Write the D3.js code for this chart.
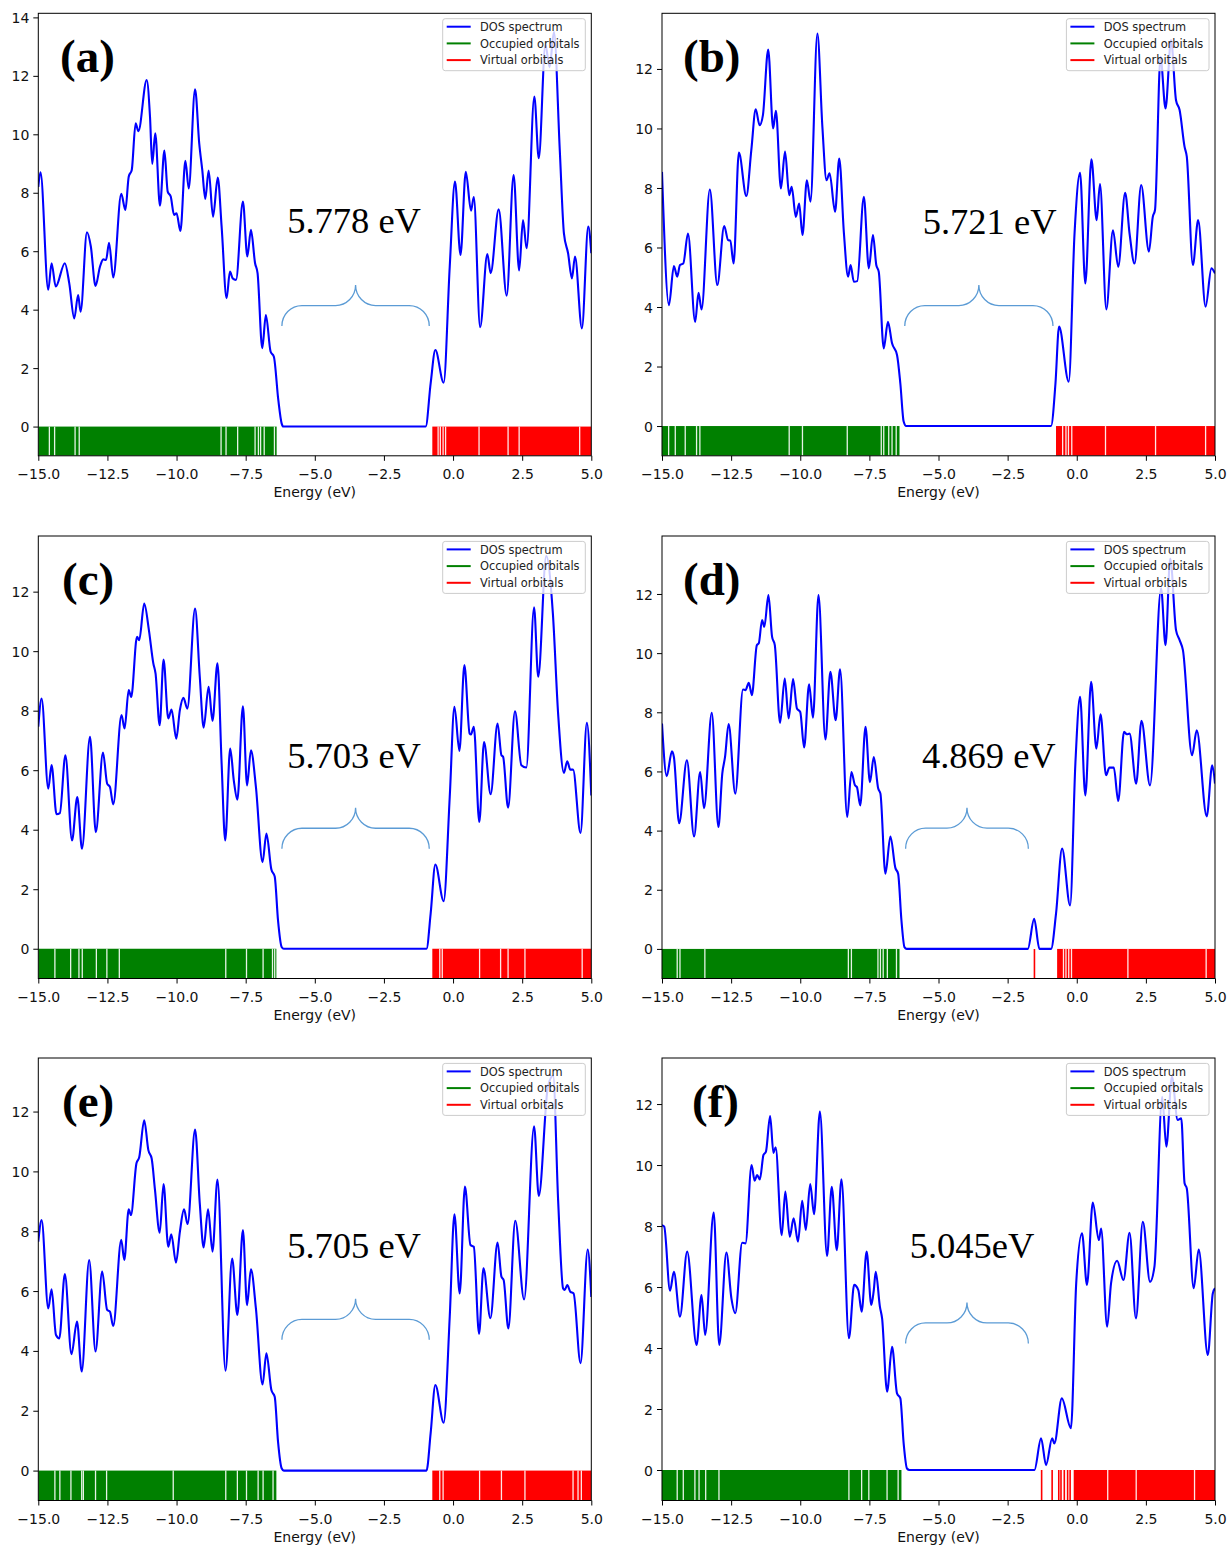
<!DOCTYPE html>
<html><head><meta charset="utf-8">
<script src="https://cdn.jsdelivr.net/npm/d3@7"></script>
<style>body{margin:0;background:#fff}svg{display:block}</style>
</head><body><svg id="c" width="1231" height="1546"></svg>
<script>
// ---------------- DATA ----------------
const xTicks = [-15, -12.5, -10, -7.5, -5, -2.5, 0, 2.5, 5];
const panelLabels = ["(a)", "(b)", "(c)", "(d)", "(e)", "(f)"];
const gapLabels = ["5.778 eV", "5.721 eV", "5.703 eV", "4.869 eV", "5.705 eV", "5.045eV"];
const legendLabels = ["DOS spectrum", "Occupied orbitals", "Virtual orbitals"];
const yMax = [14.14, 13.87, 13.87, 13.96, 13.79, 13.51];

const dosA = [[-15,8.2],[-14.92,8.7],[-14.64,4.68],[-14.52,5.59],[-14.37,4.79],[-14.04,5.59],[-13.88,4.9],[-13.70,3.7],[-13.56,4.5],[-13.47,3.93],[-13.24,6.65],[-13.1,6.16],[-12.93,4.81],[-12.77,5.47],[-12.65,5.72],[-12.55,5.7],[-12.44,6.29],[-12.29,5.1],[-12.0,7.96],[-11.85,7.41],[-11.73,8.55],[-11.62,8.78],[-11.48,10.38],[-11.38,10.11],[-11.08,11.86],[-10.96,10.6],[-10.88,8.99],[-10.77,10.03],[-10.60,7.56],[-10.44,9.44],[-10.32,8.04],[-10.21,7.87],[-10.09,7.24],[-10.0,7.30],[-9.86,6.69],[-9.68,9.09],[-9.56,8.15],[-9.33,11.54],[-9.18,9.69],[-9.07,8.78],[-8.96,7.79],[-8.84,8.76],[-8.68,7.18],[-8.51,8.52],[-8.37,6.84],[-8.19,4.39],[-8.07,5.30],[-7.97,5.07],[-7.85,5.02],[-7.60,7.70],[-7.44,5.82],[-7.31,6.73],[-7.16,5.59],[-7.07,5.25],[-6.90,2.68],[-6.77,3.82],[-6.60,2.57],[-6.48,2.39],[-6.32,0.91],[-6.2,0.11],[-6.14,0],[-0.99,0],[-0.81,1.48],[-0.64,2.62],[-0.34,1.5],[-0.12,5.47],[0.07,8.38],[0.27,5.87],[0.46,8.72],[0.65,7.39],[0.75,7.85],[0.98,3.40],[1.24,5.9],[1.36,5.25],[1.65,7.43],[1.94,4.48],[2.19,8.61],[2.39,5.34],[2.53,7.07],[2.66,6.1],[2.94,11.29],[3.10,9.18],[3.34,13.06],[3.49,12.3],[3.65,13.5],[3.86,9.46],[4.01,6.61],[4.16,5.93],[4.30,5.07],[4.41,5.82],[4.66,3.36],[4.89,6.84],[5.0,5.93]];
const dosB = [[-15,8.54],[-14.75,4.06],[-14.57,5.38],[-14.45,5.02],[-14.35,5.41],[-14.23,5.46],[-14.06,6.47],[-13.80,3.5],[-13.68,4.48],[-13.57,3.92],[-13.27,7.95],[-13.0,4.74],[-12.75,6.72],[-12.61,6.25],[-12.53,6.23],[-12.41,5.46],[-12.22,9.19],[-11.95,7.73],[-11.77,9.27],[-11.61,10.64],[-11.47,10.11],[-11.35,10.45],[-11.16,12.65],[-10.98,10.0],[-10.88,10.59],[-10.70,7.98],[-10.55,9.22],[-10.40,7.76],[-10.31,8.04],[-10.16,7.03],[-10.04,7.48],[-9.92,6.42],[-9.76,8.26],[-9.63,7.54],[-9.38,13.19],[-9.20,10.06],[-9.05,8.26],[-8.94,8.49],[-8.74,7.2],[-8.59,8.99],[-8.42,6.47],[-8.27,5.02],[-8.18,5.41],[-8.06,4.85],[-7.94,4.87],[-7.70,7.7],[-7.52,5.3],[-7.37,6.42],[-7.25,5.41],[-7.16,5.18],[-6.98,2.61],[-6.83,3.5],[-6.68,2.78],[-6.50,2.39],[-6.38,1.43],[-6.26,0.15],[-6.17,0],[-0.93,0],[-0.77,1.43],[-0.64,3.34],[-0.29,1.49],[-0.08,6.47],[0.12,8.51],[0.31,4.79],[0.53,8.96],[0.72,6.92],[0.84,8.13],[1.07,3.92],[1.31,6.58],[1.50,5.35],[1.75,7.84],[1.91,6.47],[2.09,5.46],[2.33,8.1],[2.61,5.86],[2.75,7.03],[2.83,7.26],[3.03,12.41],[3.21,10.67],[3.41,12.97],[3.59,10.95],[3.72,10.62],[3.90,9.38],[3.98,9.05],[4.20,5.41],[4.39,6.92],[4.66,4.01],[4.87,5.3],[5.0,5.13]];
const dosC = [[-15,7.46],[-14.88,8.41],[-14.64,5.38],[-14.52,6.17],[-14.34,4.52],[-14.22,4.56],[-14.02,6.5],[-13.78,3.64],[-13.59,5.1],[-13.42,3.36],[-13.13,7.12],[-12.92,3.92],[-12.66,6.59],[-12.51,5.55],[-12.41,5.44],[-12.29,4.85],[-11.99,7.85],[-11.88,7.4],[-11.73,8.69],[-11.64,8.46],[-11.43,10.48],[-11.35,10.37],[-11.17,11.6],[-11.0,10.71],[-10.84,9.59],[-10.76,9.25],[-10.61,7.51],[-10.47,9.72],[-10.30,7.74],[-10.18,8.04],[-10.01,7.06],[-9.88,8.02],[-9.75,8.43],[-9.61,8.07],[-9.33,11.43],[-9.16,9.14],[-9.02,7.43],[-8.84,8.8],[-8.70,7.66],[-8.52,9.59],[-8.37,6.22],[-8.24,3.64],[-8.06,6.73],[-7.93,5.66],[-7.80,5.01],[-7.60,8.15],[-7.45,5.49],[-7.31,6.67],[-7.13,5.44],[-6.89,2.91],[-6.75,3.87],[-6.57,2.66],[-6.45,2.43],[-6.33,0.95],[-6.20,0.06],[-6.12,0],[-0.96,0],[-0.81,1.18],[-0.64,2.83],[-0.34,1.6],[-0.12,5.1],[0.05,8.13],[0.23,6.65],[0.41,9.53],[0.60,7.23],[0.65,7.2],[0.75,7.46],[0.95,4.26],[1.12,6.95],[1.36,5.19],[1.61,7.57],[1.75,6.5],[1.81,6.45],[1.99,4.74],[2.24,7.98],[2.47,6.17],[2.65,6.09],[2.93,11.47],[3.08,9.14],[3.37,13.2],[3.61,11.27],[3.80,7.9],[4.01,5.91],[4.13,6.3],[4.24,6.02],[4.34,6.02],[4.61,3.89],[4.84,7.59],[5.0,5.15]];
const dosD = [[-15,7.62],[-14.83,5.84],[-14.64,6.68],[-14.57,6.49],[-14.38,4.25],[-14.10,6.38],[-13.84,3.8],[-13.62,5.98],[-13.48,4.76],[-13.20,7.98],[-12.96,4.12],[-12.82,5.93],[-12.72,6.49],[-12.59,7.6],[-12.35,5.25],[-12.07,8.77],[-11.98,8.75],[-11.86,9.0],[-11.75,8.58],[-11.57,10.27],[-11.50,10.33],[-11.38,11.12],[-11.30,10.89],[-11.15,11.96],[-11.02,10.56],[-10.92,10.27],[-10.73,7.64],[-10.56,9.14],[-10.42,7.79],[-10.26,9.12],[-10.12,8.13],[-10.0,8.01],[-9.86,6.81],[-9.68,8.95],[-9.54,7.82],[-9.34,11.96],[-9.09,7.08],[-8.91,9.37],[-8.72,7.73],[-8.56,9.45],[-8.30,4.46],[-8.15,5.98],[-8.02,5.53],[-7.95,5.47],[-7.83,4.85],[-7.64,7.51],[-7.48,5.64],[-7.34,6.49],[-7.18,5.42],[-7.10,5.25],[-6.92,2.54],[-6.74,3.8],[-6.56,2.74],[-6.46,2.54],[-6.34,0.96],[-6.23,0.06],[-6.15,0],[-1.77,0],[-1.54,1.02],[-1.35,0],[-0.93,0],[-0.75,1.19],[-0.53,3.39],[-0.24,1.47],[-0.05,6.26],[0.12,8.52],[0.31,5.19],[0.52,9.03],[0.71,6.77],[0.86,7.93],[1.06,5.87],[1.18,6.13],[1.34,6.13],[1.50,5.0],[1.71,7.34],[1.81,7.26],[1.91,7.28],[2.15,5.59],[2.34,7.71],[2.65,5.53],[3.05,12.19],[3.21,10.27],[3.38,13.2],[3.59,10.78],[3.72,10.44],[3.84,10.1],[4.17,6.55],[4.34,7.39],[4.70,4.48],[4.90,6.21],[5.0,5.59]];
const dosE = [[-15,7.65],[-14.88,8.37],[-14.64,5.42],[-14.52,6.06],[-14.36,4.53],[-14.24,4.42],[-14.04,6.57],[-13.80,3.89],[-13.60,4.98],[-13.43,3.31],[-13.16,7.04],[-12.93,3.98],[-12.69,6.65],[-12.51,5.37],[-12.41,5.31],[-12.29,4.83],[-12.0,7.71],[-11.89,7.04],[-11.73,8.73],[-11.65,8.54],[-11.45,10.27],[-11.35,10.47],[-11.17,11.71],[-11.02,10.71],[-10.90,10.43],[-10.78,9.38],[-10.61,7.95],[-10.47,9.58],[-10.30,7.48],[-10.19,7.9],[-10.02,6.95],[-9.88,7.98],[-9.73,8.73],[-9.60,8.24],[-9.33,11.4],[-9.16,8.93],[-9.02,7.46],[-8.86,8.73],[-8.70,7.32],[-8.52,9.73],[-8.23,3.34],[-7.99,7.09],[-7.80,5.2],[-7.60,8.04],[-7.45,5.53],[-7.31,6.73],[-7.13,5.42],[-6.89,2.88],[-6.75,3.92],[-6.57,2.69],[-6.45,2.47],[-6.33,0.97],[-6.20,0.08],[-6.12,0],[-0.96,0],[-0.81,1.25],[-0.64,2.86],[-0.34,1.6],[-0.12,5.14],[0.05,8.57],[0.24,5.92],[0.43,9.49],[0.63,7.54],[0.75,7.48],[0.94,4.57],[1.10,6.76],[1.35,5.09],[1.61,7.62],[1.75,6.48],[1.83,6.37],[2.0,4.75],[2.25,8.35],[2.57,5.72],[2.93,11.51],[3.10,9.18],[3.43,12.83],[3.62,13.2],[3.80,9.04],[3.98,6.09],[4.04,6.04],[4.13,6.2],[4.24,5.98],[4.36,5.92],[4.61,3.59],[4.87,7.39],[5.0,5.8]];
const dosF = [[-15,8.03],[-14.92,7.98],[-14.71,5.88],[-14.57,6.5],[-14.35,5.03],[-14.09,7.16],[-13.75,4.10],[-13.57,5.74],[-13.44,4.43],[-13.13,8.44],[-12.93,4.10],[-12.67,7.13],[-12.49,5.63],[-12.35,5.14],[-12.10,7.45],[-11.98,7.43],[-11.76,10.0],[-11.65,9.49],[-11.56,9.67],[-11.46,9.53],[-11.33,10.33],[-11.24,10.44],[-11.09,11.61],[-10.97,10.40],[-10.89,10.58],[-10.67,7.70],[-10.54,9.13],[-10.38,7.65],[-10.24,8.25],[-10.08,7.49],[-9.93,8.83],[-9.80,7.87],[-9.64,9.38],[-9.50,8.39],[-9.29,11.75],[-9.03,7.02],[-8.86,9.29],[-8.68,7.21],[-8.51,9.53],[-8.24,4.32],[-8.05,6.07],[-7.90,5.90],[-7.78,5.19],[-7.60,7.16],[-7.43,5.41],[-7.34,5.9],[-7.27,6.5],[-7.12,5.36],[-7.04,4.97],[-6.86,2.57],[-6.68,4.04],[-6.50,2.51],[-6.38,2.35],[-6.26,0.87],[-6.14,0.05],[-6.05,0],[-1.53,0],[-1.29,1.04],[-1.11,0.16],[-0.89,1.04],[-0.81,0.87],[-0.54,2.35],[-0.21,1.37],[-0.02,6.12],[0.19,7.76],[0.37,6.07],[0.58,8.77],[0.80,7.54],[0.88,7.92],[1.10,4.70],[1.24,6.12],[1.46,6.86],[1.69,6.23],[1.91,7.78],[2.14,4.97],[2.39,8.14],[2.65,6.17],[2.81,6.67],[3.09,12.24],[3.24,10.6],[3.44,12.9],[3.65,11.48],[3.78,11.53],[3.90,9.4],[3.98,9.23],[4.23,5.96],[4.41,7.23],[4.74,3.77],[4.92,5.79],[5.0,5.96]];

// orbital bands: occupied band from -15 to HOMO edge, virtual band from edge to 5, with white gaps
const occEdge = [-6.38, -6.41, -6.39, -6.41, -6.39, -6.34];
const occGapsA = [-14.60,-14.41,-13.67,-13.52,-8.39,-8.21,-7.79,-7.16,-7.04,-6.96,-6.83,-6.46];
const occGapsB = [-14.76,-14.52,-14.16,-13.75,-13.63,-10.40,-9.92,-8.30,-7.07,-6.98,-6.80,-6.68,-6.53];
const occGapsC = [-14.40,-13.83,-13.53,-13.41,-12.90,-12.52,-12.07,-8.22,-7.47,-6.87,-6.53,-6.45];
const occGapsD = [-14.45,-14.35,-13.45,-8.26,-8.15,-7.19,-7.10,-7.00,-6.85,-6.52];
const occGapsE = [-14.40,-14.22,-13.82,-13.43,-13.37,-12.93,-12.53,-10.12,-8.22,-7.80,-7.47,-7.05,-6.87,-6.51];
const occGapsF = [-14.45,-14.23,-13.81,-13.66,-13.42,-12.94,-8.24,-7.78,-7.52,-6.86,-6.46];
const virtEdge = [-0.75, -0.75, -0.75, -0.71, -0.75, -0.11];
const virtGapsA = [-0.54,-0.46,-0.36,-0.27,0.94,1.99,2.39,4.58];
const virtGapsB = [-0.51,-0.39,-0.30,-0.18,1.04,2.85,4.66];
const virtGapsC = [-0.48,-0.39,0.96,1.72,1.99,2.60,4.67];
const virtGapsD = [-0.48,-0.39,-0.29,-0.19,1.85,4.68];
const virtGapsE = [-0.48,-0.36,0.96,1.75,2.60,4.34,4.52,4.64];
const virtGapsF = [1.12,2.15,4.26];
const virtLinesD = [-1.53];
const virtLinesF = [-1.27,-0.89,-0.65,-0.57,-0.45,-0.33,-0.24];

// gap annotations (data units)
const gapTextX = [-6.0, -5.57, -6.0, -5.6, -6.0, -6.04];
const gapTextY = [6.62, 6.45, 6.07, 6.1, 7.11, 6.95];
const braceX0 = [-6.19, -6.22, -6.19, -6.19, -6.19, -6.19];
const braceX1 = [-0.86, -0.86, -0.86, -1.75, -0.86, -1.75];
const braceY = [3.44, 3.36, 3.36, 3.39, 4.37, 4.15];

// ---------------- LAYOUT ----------------
const dosAll = [dosA, dosB, dosC, dosD, dosE, dosF];
const occGaps = [occGapsA, occGapsB, occGapsC, occGapsD, occGapsE, occGapsF];
const virtGaps = [virtGapsA, virtGapsB, virtGapsC, virtGapsD, virtGapsE, virtGapsF];
const virtLines = [[], [], [], virtLinesD, [], virtLinesF];
const colX = [38.3, 662];
const rowY = [13.3, 536, 1058];
const PW = 553, PH = 442.5;
const labelDX = [21.7, 21, 23.7, 21, 23.7, 30];

const svg = d3.select("#c");
const tickFont = "DejaVu Sans, sans-serif";

dosAll.forEach((dos, i) => {
  const left = colX[i % 2], top = rowY[Math.floor(i / 2)];
  const x = d3.scaleLinear().domain([-15, 5]).range([left, left + PW]);
  const y = d3.scaleLinear().domain([-1, yMax[i]]).range([top + PH, top]);
  const g = svg.append("g");
  const clipId = "clip" + i;
  g.append("clipPath").attr("id", clipId).append("rect")
    .attr("x", left).attr("y", top).attr("width", PW).attr("height", PH);
  const pg = g.append("g").attr("clip-path", `url(#${clipId})`);

  // occupied band
  pg.append("rect").attr("x", x(-15)).attr("y", y(0))
    .attr("width", x(occEdge[i]) - x(-15)).attr("height", y(-1) - y(0)).attr("fill", "#008000");
  pg.selectAll(".og").data(occGaps[i]).join("line")
    .attr("x1", d => x(d)).attr("x2", d => x(d)).attr("y1", y(0)).attr("y2", y(-1))
    .attr("stroke", "#fff").attr("stroke-width", 1.3).attr("opacity", 0.9);
  // virtual band
  pg.append("rect").attr("x", x(virtEdge[i])).attr("y", y(0))
    .attr("width", x(5) - x(virtEdge[i])).attr("height", y(-1) - y(0)).attr("fill", "#ff0000");
  pg.selectAll(".vg").data(virtGaps[i]).join("line")
    .attr("x1", d => x(d)).attr("x2", d => x(d)).attr("y1", y(0)).attr("y2", y(-1))
    .attr("stroke", "#fff").attr("stroke-width", 1.3).attr("opacity", 0.9);
  pg.selectAll(".vl").data(virtLines[i]).join("line")
    .attr("x1", d => x(d)).attr("x2", d => x(d)).attr("y1", y(0)).attr("y2", y(-1))
    .attr("stroke", "#ff0000").attr("stroke-width", 1.6);

  // DOS curve
  const line = d3.line().x(d => x(d[0])).y(d => y(d[1])).curve(d3.curveMonotoneX);
  pg.append("path").attr("d", line(dos)).attr("fill", "none")
    .attr("stroke", "#0000ff").attr("stroke-width", 2.1).attr("stroke-linejoin", "round");

  // frame
  g.append("rect").attr("x", left).attr("y", top).attr("width", PW).attr("height", PH)
    .attr("fill", "none").attr("stroke", "#000").attr("stroke-width", 1);

  // x axis
  const xa = g.append("g").attr("transform", `translate(0,${top + PH})`)
    .call(d3.axisBottom(x).tickValues(xTicks).tickFormat(d3.format(".1f")).tickSize(5).tickPadding(4));
  xa.select(".domain").remove();
  xa.selectAll("line").attr("stroke", "#000");
  xa.selectAll("text").attr("font-family", tickFont).attr("font-size", 14).attr("fill", "#111")
    .attr("dy", null).attr("y", 23.5);
  // y axis
  const ya = g.append("g").attr("transform", `translate(${left},0)`)
    .call(d3.axisLeft(y).tickValues(d3.range(0, yMax[i], 2)).tickFormat(d3.format("d")).tickSize(5).tickPadding(4));
  ya.select(".domain").remove();
  ya.selectAll("line").attr("stroke", "#000");
  ya.selectAll("text").attr("font-family", tickFont).attr("font-size", 14).attr("fill", "#111")
    .attr("dy", "0.36em").attr("x", -9);

  g.append("text").attr("x", left + PW / 2).attr("y", top + PH + 41)
    .attr("text-anchor", "middle").attr("font-family", tickFont).attr("font-size", 14)
    .attr("fill", "#111").text("Energy (eV)");

  // legend
  const lx = left + PW - 148.6, ly = top + 5.4;
  const lg = g.append("g");
  lg.append("rect").attr("x", lx).attr("y", ly).attr("width", 142.6).attr("height", 52)
    .attr("rx", 2.5).attr("fill", "#fff").attr("fill-opacity", 0.8)
    .attr("stroke", "#cccccc").attr("stroke-width", 1);
  const legColors = ["#0000ff", "#008000", "#ff0000"];
  legendLabels.forEach((t, k) => {
    const yy = ly + 8 + k * 16.7;
    lg.append("line").attr("x1", lx + 4).attr("x2", lx + 28).attr("y1", yy).attr("y2", yy)
      .attr("stroke", legColors[k]).attr("stroke-width", 2);
    lg.append("text").attr("x", lx + 37.3).attr("y", yy).attr("dy", "0.36em")
      .attr("font-family", tickFont).attr("font-size", 11.4).attr("fill", "#222").text(t);
  });

  // panel label
  g.append("text").attr("x", left + labelDX[i]).attr("y", top + 58.5)
    .attr("font-family", "Liberation Serif, Times New Roman, serif").attr("font-weight", "bold")
    .attr("font-size", 47).attr("fill", "#000").text(panelLabels[i]);

  // gap value text
  g.append("text").attr("x", x(gapTextX[i])).attr("y", y(gapTextY[i]))
    .attr("font-family", "Liberation Serif, Times New Roman, serif")
    .attr("font-size", 36.5).attr("fill", "#000").text(gapLabels[i]);

  // curly brace
  const X0 = x(braceX0[i]), X1 = x(braceX1[i]), XC = (X0 + X1) / 2, Yb = y(braceY[i]);
  const r = 20, h = 20.5, t = 41, k = 0.552;
  const p = `M${X0},${Yb} C${X0},${Yb - k * h} ${X0 + r - k * r},${Yb - h} ${X0 + r},${Yb - h}` +
    ` L${XC - r},${Yb - h} C${XC - r + k * r},${Yb - h} ${XC},${Yb - t + k * (t - h)} ${XC},${Yb - t}` +
    ` C${XC},${Yb - t + k * (t - h)} ${XC + r - k * r},${Yb - h} ${XC + r},${Yb - h}` +
    ` L${X1 - r},${Yb - h} C${X1 - r + k * r},${Yb - h} ${X1},${Yb - k * h} ${X1},${Yb}`;
  g.append("path").attr("d", p).attr("fill", "none").attr("stroke", "#5b9bd5").attr("stroke-width", 1.3);
});
</script></body></html>
